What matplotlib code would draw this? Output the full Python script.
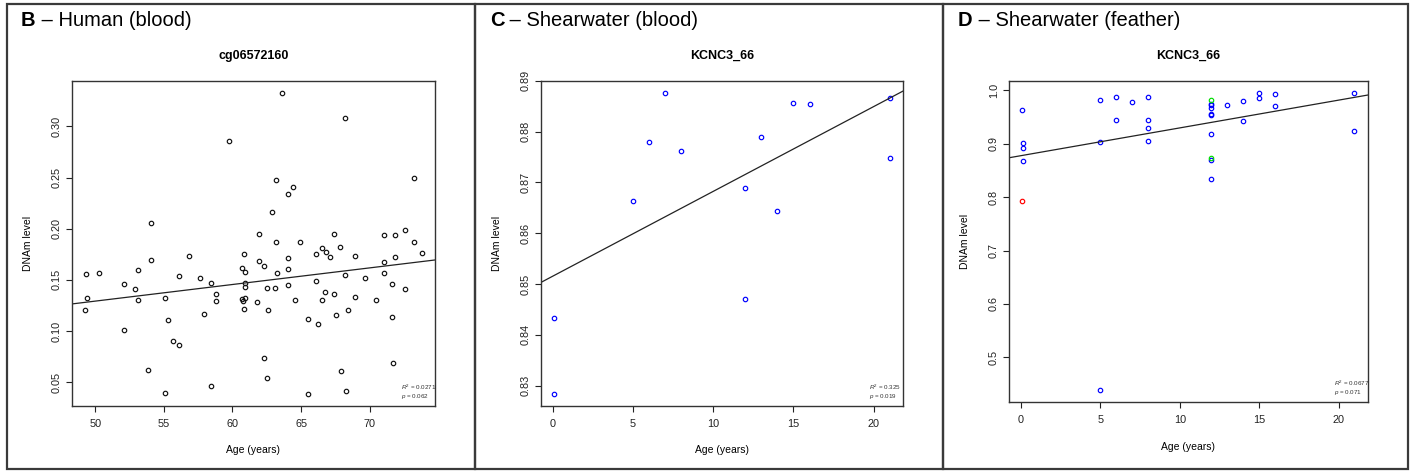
import numpy as np
import matplotlib
matplotlib.use("Agg")
import matplotlib.pyplot as plt
from matplotlib.patches import Rectangle

plt.rcParams['font.family'] = ['Liberation Sans', 'DejaVu Sans']
plt.rcParams['mathtext.fontset'] = 'custom'
plt.rcParams['mathtext.rm'] = 'Liberation Sans'
plt.rcParams['mathtext.it'] = 'Liberation Sans:italic'

# ---- panel B : human blood, cg06572160 ----
ages_b = [63.6, 68.2, 59.73, 54.09, 63.14, 64.43, 64.01, 62.85, 73.21, 61.95, 67.4, 71.04, 71.82, 72.58,
          49.34, 49.37, 49.29, 50.29, 52.12, 52.87, 53.14, 53.14, 52.12, 54.06,
          53.84, 55.06, 55.28, 55.06, 55.64, 56.13, 56.11, 56.84, 57.66, 57.93,
          58.47, 58.83, 58.83, 58.47, 60.83, 60.69, 60.91, 60.91, 60.88, 60.71,
          60.73, 60.91, 60.83, 61.82, 61.95, 62.28, 63.14, 63.21, 62.49, 63.1,
          62.57, 62.28, 62.49, 64.01, 64.03, 64.03, 64.91, 64.53, 66.08, 66.08,
          66.55, 66.8, 67.12, 67.84, 68.16, 66.74, 67.37, 66.5, 68.91, 68.91,
          69.64, 68.42, 67.52, 65.5, 66.23, 65.52, 67.88, 68.27, 70.46, 71.04,
          71.04, 71.65, 71.82, 72.6, 73.21, 73.77, 71.65, 71.7]
vals_b = [0.333, 0.3085, 0.2857, 0.2058, 0.2478, 0.2413, 0.2335, 0.2165, 0.2495, 0.1947, 0.1947, 0.194, 0.194, 0.1986,
          0.1559, 0.1327, 0.1206, 0.1568, 0.1458, 0.1415, 0.1595, 0.1307, 0.1014, 0.1696,
          0.0622, 0.1324, 0.1112, 0.0391, 0.0903, 0.0864, 0.1536, 0.1732, 0.1523, 0.1164,
          0.1474, 0.1363, 0.1295, 0.046, 0.1751, 0.162, 0.1578, 0.1474, 0.1435, 0.1311,
          0.1295, 0.1321, 0.1216, 0.1288, 0.1689, 0.1634, 0.1872, 0.1568, 0.1425, 0.1425,
          0.1206, 0.0734, 0.0541, 0.1718, 0.161, 0.1451, 0.1872, 0.1307, 0.1754, 0.149,
          0.181, 0.1777, 0.1725, 0.1826, 0.1552, 0.1383, 0.1363, 0.1307, 0.1735, 0.1337,
          0.1523, 0.1203, 0.1158, 0.1121, 0.1069, 0.0387, 0.061, 0.0414, 0.1304, 0.1679,
          0.1566, 0.1461, 0.1728, 0.1415, 0.1872, 0.1767, 0.1141, 0.0685]
fit_b = (0.0479, 0.001626)      # intercept, slope

# ---- panel C : shearwater blood, KCNC3_66 ----
ages_c = [5.0, 6.0, 7.0, 8.0, 12.0, 13.0, 14.0, 15.0, 16.0, 21.0, 21.0, 0.1, 0.1, 12.0]
vals_c = [0.8663, 0.878, 0.8876, 0.8761, 0.8688, 0.8789, 0.8644, 0.8856, 0.8854, 0.8865, 0.8748,
          0.8432, 0.8284, 0.847]
fit_c = (0.8515, 0.001671)

# ---- panel D : shearwater feather, KCNC3_66 ----
ages_d = [0.08, 0.1, 0.1, 0.1, 4.97, 4.97, 5.98, 5.98, 6.99, 8.0, 8.0, 8.0, 8.0,
          11.98, 11.98, 11.98, 11.98, 11.98, 11.98, 11.98, 11.98, 12.99, 14.0, 14.0,
          15.01, 15.01, 16.01, 16.01, 21.0, 21.0, 4.99]
vals_d = [0.9625, 0.9019, 0.8919, 0.8675, 0.981, 0.9031, 0.9869, 0.9438, 0.9788, 0.9875, 0.9438, 0.9294, 0.9056,
          0.975, 0.973, 0.9669, 0.955, 0.954, 0.9188, 0.8688, 0.8344, 0.9719, 0.9806, 0.9419,
          0.9944, 0.9856, 0.9931, 0.97, 0.9955, 0.9238, 0.4382]
ages_d_green = [11.98, 11.98]
vals_d_green = [0.981, 0.8738]
ages_d_red = [0.08]
vals_d_red = [0.7931]
fit_d = (0.8775, 0.005195)

W, H = 1413, 471
fig = plt.figure(figsize=(W / 100, H / 100), dpi=100)


def fpos(l, t, r, b):
    return [l / W, 1 - b / H, (r - l) / W, (b - t) / H]


def rlim(v):
    # R style axis range: data range + 4% each side
    lo, hi = min(v), max(v)
    d = (hi - lo) * 0.04
    return lo - d, hi + d


def panel(box, xs_list, ys_list, colors, fit, xticks, yticks, yfmt, sub, stats):
    ax = fig.add_axes(fpos(*box))
    allx = sum(xs_list, [])
    ally = sum(ys_list, [])
    for xs, ys, c in zip(xs_list, ys_list, colors):
        ax.plot(xs, ys, 'o', ls='none', mfc='none', mec=c, ms=3.2, mew=0.85)
    xl = rlim(allx)
    yl = rlim(ally)
    xx = np.array(xl)
    ax.plot(xx, fit[0] + fit[1] * xx, color='#222222', lw=0.9)
    ax.set_xlim(xl)
    ax.set_ylim(yl)
    ax.set_xticks(xticks)
    ax.set_yticks(yticks)
    ax.set_yticklabels([yfmt % v for v in yticks])
    ax.tick_params(direction='out', length=4.3, width=0.8, labelsize=7.8, colors='#222222', pad=3)
    ax.tick_params(axis='x', pad=5)
    plt.setp(ax.get_yticklabels(), rotation=90, va='center')
    for s in ax.spines.values():
        s.set_linewidth(1.0)
        s.set_color('#333333')
    aw = box[2] - box[0]
    ah = box[3] - box[1]
    ax.set_xlabel('Age (years)', fontsize=7.5)
    ax.set_ylabel('DNAm level', fontsize=7.5)
    ax.xaxis.set_label_coords(0.5, -44.3 / ah)
    ax.xaxis.label.set_va('center')
    ax.yaxis.set_label_coords(-44 / aw, 0.5)
    ax.yaxis.label.set_va('center')
    fig.text((box[0] + box[2]) / 2 / W, 1 - 56 / H, sub, ha='center', va='center',
             fontsize=9, fontweight='bold')
    ax.text(0.905, 0.0155, r'$R^2$ = %s' % stats[0] + '\n' + r'$p$ = %s' % stats[1],
            transform=ax.transAxes, ha='left', va='bottom', fontsize=4.5,
            linespacing=1.0, color='#333333')
    return ax


panel((72, 80.7, 435, 405.7), [ages_b], [vals_b], ['#111111'], fit_b,
      [50, 55, 60, 65, 70], [0.05, 0.10, 0.15, 0.20, 0.25, 0.30], '%.2f',
      'cg06572160', ('0.0271', '0.062'))
panel((540.7, 80.7, 903.3, 405.7), [ages_c], [vals_c], ['#0000ff'], fit_c,
      [0, 5, 10, 15, 20], [0.83, 0.84, 0.85, 0.86, 0.87, 0.88, 0.89], '%.2f',
      'KCNC3_66', ('0.325', '0.019'))
panel((1009, 80.7, 1367.7, 402.3), [ages_d, ages_d_green, ages_d_red],
      [vals_d, vals_d_green, vals_d_red], ['#0000ff', '#00dd00', '#ff0000'], fit_d,
      [0, 5, 10, 15, 20], [0.5, 0.6, 0.7, 0.8, 0.9, 1.0], '%.1f',
      'KCNC3_66', ('0.0677', '0.071'))

# panel frames
for l, r in [(7, 475), (475, 943), (943, 1408)]:
    fig.add_artist(Rectangle((l / W, 1 - 469 / H), (r - l) / W, (469 - 3.5) / H,
                             transform=fig.transFigure, fill=False, ec='#3a3a3a', lw=1.6))

# panel headings, bold letter then plain text
for x0, letter, rest in [(21, 'B', 'Human (blood)'), (490, 'C', 'Shearwater (blood)'),
                         (958, 'D', 'Shearwater (feather)')]:
    t = fig.text(x0 / W, 1 - 26.5 / H, letter, fontsize=14.5, fontweight='bold', va='baseline')
    fig.canvas.draw()
    bb = t.get_window_extent()
    fig.text(bb.x1 / W, 1 - 26.5 / H, ' \u2013 ' + rest, fontsize=14.5, va='baseline')

fig.savefig('out.png', dpi=100)
